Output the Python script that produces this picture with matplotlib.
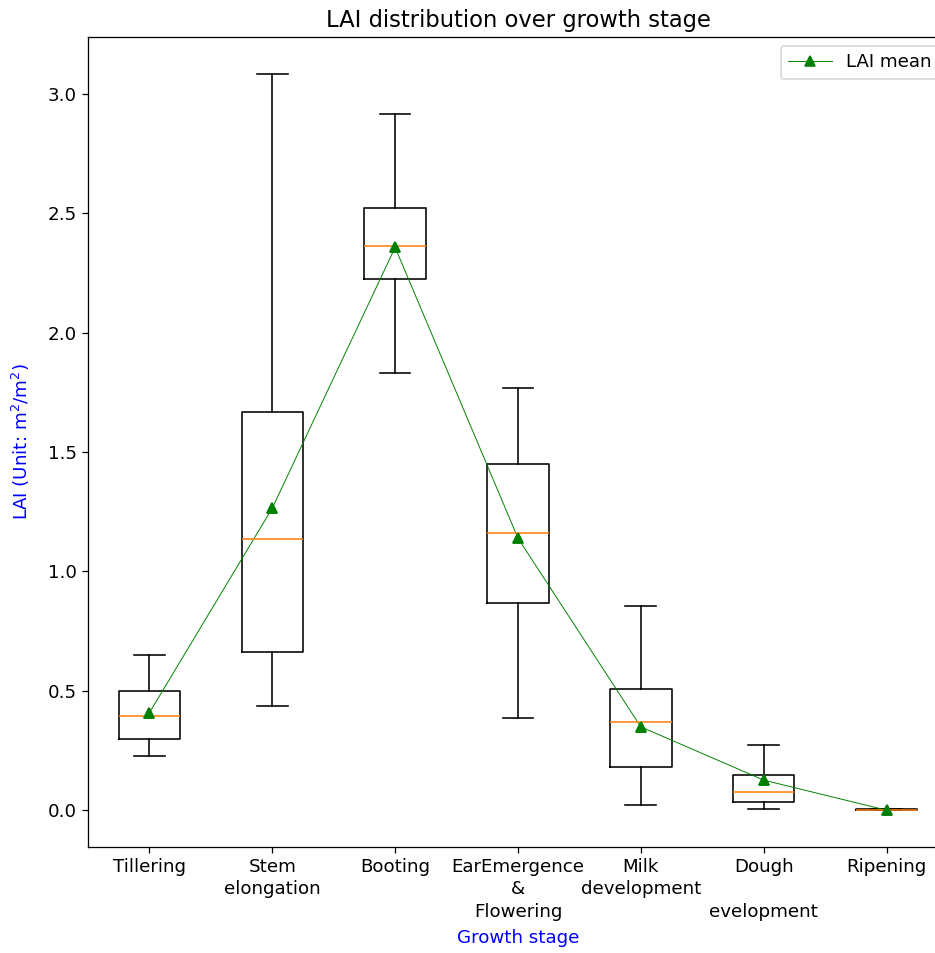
import matplotlib
matplotlib.use("Agg")
import matplotlib.pyplot as plt

# LAI summary statistics per growth stage
stages = ["Tillering", "Stem\nelongation", "Booting", "EarEmergence\n&\nFlowering",
          "Milk\ndevelopment", "Dough\n\nevelopment", "Ripening"]
whisker_low = [0.227, 0.437, 1.832, 0.387, 0.021, 0.004, 0.000]
q1 = [0.298, 0.664, 2.223, 0.866, 0.181, 0.034, 0.000]
median = [0.395, 1.134, 2.361, 1.160, 0.370, 0.076, 0.001]
q3 = [0.500, 1.668, 2.521, 1.450, 0.508, 0.147, 0.003]
whisker_high = [0.651, 3.084, 2.916, 1.769, 0.857, 0.273, 0.005]
lai_mean = [0.408, 1.265, 2.357, 1.139, 0.349, 0.126, 0.000]

plt.rcParams["font.size"] = 11.4

DPI = 115
fig = plt.figure(figsize=(935 / DPI, 953 / DPI), dpi=DPI)
ax = fig.add_axes([0.0941, 0.1112, 0.9198, 0.850])

stats = []
for i in range(len(stages)):
    stats.append({
        "whislo": whisker_low[i], "q1": q1[i], "med": median[i],
        "q3": q3[i], "whishi": whisker_high[i], "mean": lai_mean[i],
        "fliers": [],
    })

positions = list(range(1, len(stages) + 1))
ax.bxp(stats, positions=positions, showmeans=True,
       meanprops=dict(marker="^", markerfacecolor="green",
                      markeredgecolor="green"))
ax.plot(positions, lai_mean, "^-", color="green", lw=0.6, label="LAI mean")

ax.set_xticks(positions)
ax.set_xticklabels(stages, linespacing=1.3)
ax.set_xlim(0.5, 7.5)
ax.set_title("LAI distribution over growth stage", fontsize=14.2)
ax.set_xlabel("Growth stage", color="blue", labelpad=5)
ax.set_ylabel("LAI (Unit: m$^2$/m$^2$)", color="blue", labelpad=10)
ax.legend(loc="upper right", handlelength=2.4)

fig.savefig("out.png", dpi=DPI)
